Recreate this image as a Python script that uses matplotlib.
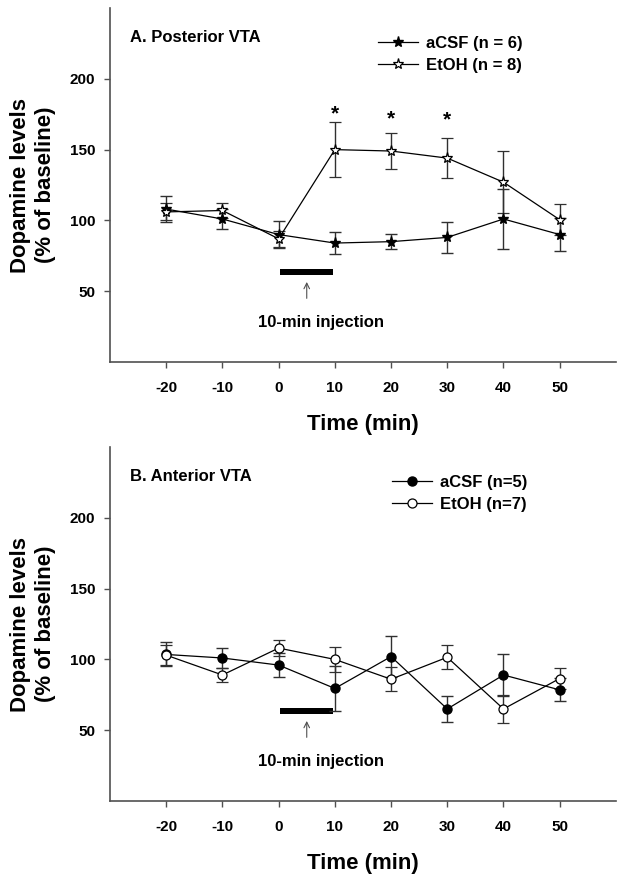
import numpy as np
import matplotlib
matplotlib.use('Agg')
import matplotlib.pyplot as plt
from matplotlib.lines import Line2D

plt.rcParams['font.family'] = ['Liberation Sans', 'DejaVu Sans']
plt.rcParams['font.weight'] = 'bold'

# Time points (min)
time = [-20, -10, 0, 10, 20, 30, 40, 50]

# A. Posterior VTA
post_acsf = [108, 101, 90, 84, 85, 88, 101, 90]
post_acsf_err = [9, 7, 9.5, 8, 5.5, 11, 21, 11.5]
post_etoh = [106, 107, 87, 150, 149, 144, 127, 100.5]
post_etoh_err = [6, 5, 5.5, 19.5, 12.5, 14, 22, 11]
post_sig_times = [10, 20, 30]
post_sig_y = [175.5, 172, 171]

# B. Anterior VTA
ant_acsf = [103.5, 101, 96, 79.5, 102, 65, 89, 78.5]
ant_acsf_err = [8.5, 7, 8.7, 15.6, 14.5, 9, 14.7, 8.2]
ant_etoh = [103, 89, 108, 100, 86, 101.5, 65, 86.5]
ant_etoh_err = [7, 5.2, 5.6, 9, 8.5, 8.5, 9.8, 7.3]

spine_col = '#505050'

fig = plt.figure(figsize=(6.24, 8.81), dpi=100)
ax1 = fig.add_axes([0.1763, 0.5891, 0.8107, 0.4018])
ax2 = fig.add_axes([0.1763, 0.0908, 0.8107, 0.4018])


def draw_panel(ax, acsf, acsf_err, etoh, etoh_err, marker, ms, title, labels,
               leg_x):
    ax.errorbar(time, acsf, yerr=acsf_err, color='black', ecolor='#303030',
                lw=0.9, elinewidth=1.0, capsize=4, capthick=1.0,
                marker=marker, ms=ms, mfc='black', mec='black')
    ax.errorbar(time, etoh, yerr=etoh_err, color='black', ecolor='#303030',
                lw=0.9, elinewidth=1.0, capsize=4, capthick=1.0,
                marker=marker, ms=ms, mfc='white', mec='black', mew=0.9)

    # injection bar and arrow
    ax.fill_between([0.2, 9.6], 61.3, 66.0, color='black', lw=0)
    ax.annotate('', xy=(5, 58.5), xytext=(5, 43),
                arrowprops=dict(arrowstyle='->', color='#505050', lw=0.8))
    ax.text(7.5, 27.6, '10-min injection', ha='center', va='center',
            fontsize=12, fontweight='bold')

    ax.text(-26.5, 229.4, title, ha='left', va='center',
            fontsize=12, fontweight='bold')

    ax.set_xlim(-30, 60)
    ax.set_ylim(0, 250)
    ax.set_xticks(time)
    ax.set_xticklabels([str(t) for t in time])
    ax.set_yticks([50, 100, 150, 200])
    for s in ['top', 'right']:
        ax.spines[s].set_visible(False)
    for s in ['left', 'bottom']:
        ax.spines[s].set_color(spine_col)
        ax.spines[s].set_linewidth(1.2)
    ax.tick_params(axis='x', length=4, width=1, color=spine_col, pad=10,
                   labelsize=11)
    ax.tick_params(axis='y', length=4, width=1, color=spine_col, pad=6.5,
                   labelsize=11)
    for lab in ax.get_xticklabels() + ax.get_yticklabels():
        lab.set_fontweight('bold')

    ax.set_xlabel('Time (min)', fontsize=16, fontweight='bold')
    ax.xaxis.set_label_coords(0.5, -0.147)
    ax.set_ylabel('Dopamine levels\n(% of baseline)', fontsize=16,
                  fontweight='bold', linespacing=1.25)
    ax.yaxis.set_label_coords(-0.107, 0.5)

    handles = [
        Line2D([], [], color='black', lw=0.9, marker=marker, ms=ms,
               mfc='black', mec='black'),
        Line2D([], [], color='black', lw=0.9, marker=marker, ms=ms,
               mfc='white', mec='black', mew=0.9),
    ]
    leg = ax.legend(handles, labels, loc='upper left',
                    bbox_to_anchor=(leg_x, 0.922), frameon=False,
                    fontsize=12, handlelength=2.4, handletextpad=0.5,
                    labelspacing=0.45, borderpad=0, borderaxespad=0)
    for txt in leg.get_texts():
        txt.set_fontweight('bold')


draw_panel(ax1, post_acsf, post_acsf_err, post_etoh, post_etoh_err,
           '*', 8, 'A. Posterior VTA', ['aCSF (n = 6)', 'EtOH (n = 8)'], 0.53)
draw_panel(ax2, ant_acsf, ant_acsf_err, ant_etoh, ant_etoh_err,
           'o', 6.5, 'B. Anterior VTA', ['aCSF (n=5)', 'EtOH (n=7)'], 0.557)

for t, y in zip(post_sig_times, post_sig_y):
    ax1.text(t, y, '*', ha='center', va='center', fontsize=15,
             fontweight='bold')

fig.savefig('out.png', dpi=100)
